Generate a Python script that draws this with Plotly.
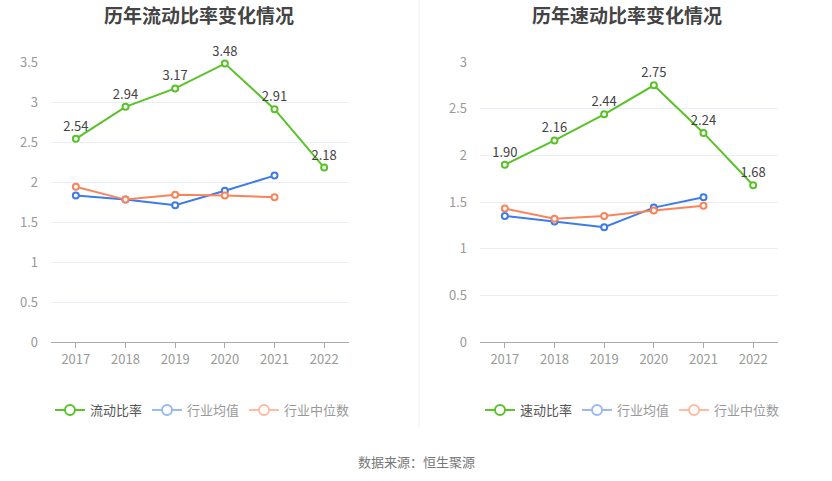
import plotly.graph_objects as go

years = ["2017", "2018", "2019", "2020", "2021", "2022"]

current_ratio = [2.54, 2.94, 3.17, 3.48, 2.91, 2.18]
current_ind_mean = [1.83, 1.78, 1.71, 1.89, 2.08, None]
current_ind_median = [1.94, 1.78, 1.84, 1.83, 1.81, None]

quick_ratio = [1.90, 2.16, 2.44, 2.75, 2.24, 1.68]
quick_ind_mean = [1.35, 1.29, 1.23, 1.44, 1.55, None]
quick_ind_median = [1.43, 1.32, 1.35, 1.41, 1.46, None]

left_title = "历年流动比率变化情况"
right_title = "历年速动比率变化情况"
left_names = ["流动比率", "行业均值", "行业中位数"]
right_names = ["速动比率", "行业均值", "行业中位数"]
source_text = "数据来源：恒生聚源"

GREEN = "#5ac229"
BLUE = "#3d7be8"
ORANGE = "#fa845a"
LGREEN = "#5ac229"
LBLUE = "#9ab8f3"
LORANGE = "#fcbba3"
FONT = "Noto Sans CJK SC"

fig = go.Figure()

def add_series(xa, ya, vals, color, labels):
    fig.add_trace(go.Scatter(
        x=years, y=vals, xaxis=xa, yaxis=ya, mode="lines+markers+text" if labels else "lines+markers",
        line=dict(color=color, width=2),
        marker=dict(symbol="circle", size=6, color="white", line=dict(color=color, width=2)),
        text=[f"{v:.2f}" for v in vals] if labels else None,
        textposition="top center",
        textfont=dict(size=13, color="#444", family=FONT),
        showlegend=False, hoverinfo="skip", cliponaxis=False,
    ))

def add_legend(name, color, legend, dark):
    txtc = "#555" if dark else "#999"
    fig.add_trace(go.Scatter(
        x=[None], y=[None], mode="lines+markers", legend=legend,
        name=f'<span style="color:{txtc}">{name}</span>',
        line=dict(color=color, width=2),
        marker=dict(symbol="circle", size=10, color="white", line=dict(color=color, width=2)),
    ))

# left chart
add_series("x", "y", current_ind_mean, BLUE, False)
add_series("x", "y", current_ind_median, ORANGE, False)
add_series("x", "y", current_ratio, GREEN, True)
# right chart
add_series("x2", "y2", quick_ind_mean, BLUE, False)
add_series("x2", "y2", quick_ind_median, ORANGE, False)
add_series("x2", "y2", quick_ratio, GREEN, True)

for n, c, d in zip(left_names, [LGREEN, LBLUE, LORANGE], [True, False, False]):
    add_legend(n, c, "legend", d)
for n, c, d in zip(right_names, [LGREEN, LBLUE, LORANGE], [True, False, False]):
    add_legend(n, c, "legend2", d)

W, H = 832, 481
ydom = [1 - 342 / H, 1 - 62 / H]

xcommon = dict(type="category", range=[-0.5, 5.5], showgrid=False, showline=True,
               linecolor="#aaaaaa", linewidth=1, ticks="outside", ticklen=5, tickcolor="#aaaaaa",
               tickfont=dict(size=13, color="#999", family=FONT), fixedrange=True, zeroline=False)
ycommon = dict(showgrid=True, gridcolor="#e9edf5", gridwidth=1, zeroline=False, showline=False,
               tickfont=dict(size=13, color="#999", family=FONT), ticks="", dtick=0.5,
               ticklabelstandoff=12, fixedrange=True)

legcommon = dict(orientation="h", yanchor="middle", font=dict(size=13, family=FONT, color="#999"),
                 bgcolor="rgba(0,0,0,0)", itemwidth=30, itemclick=False, itemdoubleclick=False)

fig.update_layout(
    width=W, height=H, margin=dict(l=0, r=0, t=0, b=0, autoexpand=False),
    paper_bgcolor="white", plot_bgcolor="white",
    font=dict(family=FONT),
    xaxis=dict(domain=[51 / W, 349 / W], anchor="y", **xcommon),
    yaxis=dict(domain=ydom, range=[0, 3.5], anchor="x", tickvals=[0, 0.5, 1, 1.5, 2, 2.5, 3, 3.5],
               ticktext=["0", "0.5", "1", "1.5", "2", "2.5", "3", "3.5"], **ycommon),
    xaxis2=dict(domain=[480 / W, 778 / W], anchor="y2", **xcommon),
    yaxis2=dict(domain=ydom, range=[0, 3], anchor="x2", tickvals=[0, 0.5, 1, 1.5, 2, 2.5, 3],
                ticktext=["0", "0.5", "1", "1.5", "2", "2.5", "3"], **ycommon),
    legend=dict(x=50 / W, y=1 - 410 / H, xanchor="left", **legcommon),
    legend2=dict(x=480 / W, y=1 - 410 / H, xanchor="left", **legcommon),
    annotations=[
        dict(text=f"<b>{left_title}</b>", x=199 / W, y=1 - 14 / H, xref="paper", yref="paper",
             showarrow=False, xanchor="center", yanchor="middle", font=dict(size=19, color="#444", family=FONT)),
        dict(text=f"<b>{right_title}</b>", x=627 / W, y=1 - 14 / H, xref="paper", yref="paper",
             showarrow=False, xanchor="center", yanchor="middle", font=dict(size=19, color="#444", family=FONT)),
        dict(text=source_text, x=416 / W, y=1 - 461 / H, xref="paper", yref="paper",
             showarrow=False, xanchor="center", yanchor="middle", font=dict(size=13, color="#777", family=FONT)),
    ],
    shapes=[dict(type="line", xref="paper", yref="paper", x0=419 / W, x1=419 / W, y0=1 - 428 / H, y1=1,
                 line=dict(color="#eeeeee", width=1))],
)

fig.write_html("out.html", config={"displayModeBar": False},
               post_script="document.body.style.margin='0';document.body.style.overflow='hidden';")
